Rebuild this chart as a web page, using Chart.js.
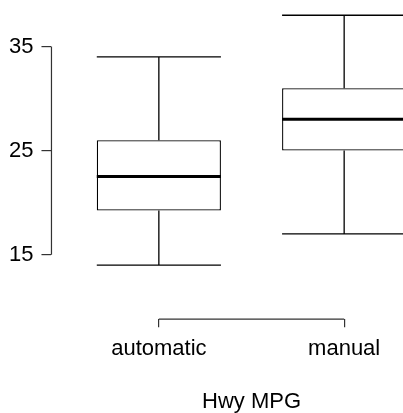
<!DOCTYPE html>
<html>
<head>
<meta charset="utf-8">
<script src="https://cdn.jsdelivr.net/npm/chart.js@4"></script>
<style>
html, body { margin: 0; padding: 0; background: #fff; overflow: hidden; }
/* the plot region runs past the right edge of the window, as in the original */
#wrap { width: 503px; height: 413px; }
</style>
</head>
<body>
<div id="wrap"><canvas id="mpgBox"></canvas></div>
<script>
// Highway MPG by transmission type
const groups = ['automatic', 'manual'];
const groupPos = [1, 2];
const mins = [14, 17];
const q1s = [19.25, 25];
const medians = [22.5, 28];
const q3s = [26, 31];
const maxs = [34, 38];
const yTicks = [15, 25, 35];

const boxHalf = 0.335;
const font = { family: "'Liberation Sans', Arial, sans-serif", size: 22 };

// whiskers, staples, medians and the short R-style axis lines
const boxPlugin = {
    id: 'boxParts',
    afterDatasetsDraw(chart) {
        const ctx = chart.ctx;
        const x = chart.scales.x;
        const y = chart.scales.y;
        ctx.save();
        ctx.strokeStyle = '#000';
        ctx.lineWidth = 1.3;
        groupPos.forEach((p, i) => {
            const cx = x.getPixelForValue(p);
            const l = x.getPixelForValue(p - boxHalf);
            const r = x.getPixelForValue(p + boxHalf);
            ctx.beginPath();
            ctx.moveTo(cx, y.getPixelForValue(q3s[i]));
            ctx.lineTo(cx, y.getPixelForValue(maxs[i]));
            ctx.moveTo(cx, y.getPixelForValue(q1s[i]));
            ctx.lineTo(cx, y.getPixelForValue(mins[i]));
            ctx.moveTo(l, y.getPixelForValue(maxs[i]));
            ctx.lineTo(r, y.getPixelForValue(maxs[i]));
            ctx.moveTo(l, y.getPixelForValue(mins[i]));
            ctx.lineTo(r, y.getPixelForValue(mins[i]));
            ctx.stroke();
            ctx.lineWidth = 3;
            ctx.beginPath();
            ctx.moveTo(l, y.getPixelForValue(medians[i]));
            ctx.lineTo(r, y.getPixelForValue(medians[i]));
            ctx.stroke();
            ctx.lineWidth = 1.3;
        });
        ctx.strokeStyle = '#333';
        ctx.lineWidth = 1.2;
        ctx.beginPath();
        const ax = chart.chartArea.left;
        ctx.moveTo(ax, y.getPixelForValue(yTicks[0]));
        ctx.lineTo(ax, y.getPixelForValue(yTicks[yTicks.length - 1]));
        const ay = chart.chartArea.bottom;
        ctx.moveTo(x.getPixelForValue(groupPos[0]), ay);
        ctx.lineTo(x.getPixelForValue(groupPos[groupPos.length - 1]), ay);
        ctx.stroke();
        ctx.restore();
    }
};

const ctx = document.getElementById('mpgBox').getContext('2d');
new Chart(ctx, {
    type: 'bar',
    data: {
        datasets: [{
            data: groupPos.map((p, i) => ({ x: p, y: [q1s[i], q3s[i]] })),
            backgroundColor: '#fff',
            borderColor: '#000',
            borderWidth: 1.3,
            borderSkipped: false,
            categoryPercentage: 0.8,
            barPercentage: (boxHalf * 2) / 0.8
        }]
    },
    options: {
        responsive: true,
        maintainAspectRatio: false,
        animation: false,
        layout: { padding: { left: 1, right: 1, top: 0, bottom: 0 } },
        plugins: {
            legend: { display: false },
            tooltip: { enabled: false },
            title: {
                display: true,
                text: 'Hwy MPG',
                position: 'bottom',
                color: '#000',
                font: { ...font, weight: 'normal' },
                padding: { top: 17, bottom: -2 }
            }
        },
        scales: {
            x: {
                type: 'linear',
                offset: false,
                min: 0.4205,
                max: 2.8518,
                afterBuildTicks: axis => { axis.ticks = groupPos.map(v => ({ value: v })); },
                ticks: {
                    callback: (v, i) => groups[i],
                    color: '#000',
                    font: font,
                    padding: 9,
                    maxRotation: 0,
                    autoSkip: false
                },
                grid: { offset: false, drawOnChartArea: false, tickLength: 8, color: '#333', lineWidth: 1.2 },
                border: { display: false }
            },
            y: {
                min: 8.8,
                max: 37.43,
                afterBuildTicks: axis => { axis.ticks = yTicks.map(v => ({ value: v })); },
                ticks: { color: '#000', font: font, padding: 8 },
                grid: { drawOnChartArea: false, tickLength: 10, color: '#333', lineWidth: 1.2 },
                border: { display: false }
            }
        }
    },
    plugins: [boxPlugin]
});
</script>
</body>
</html>
